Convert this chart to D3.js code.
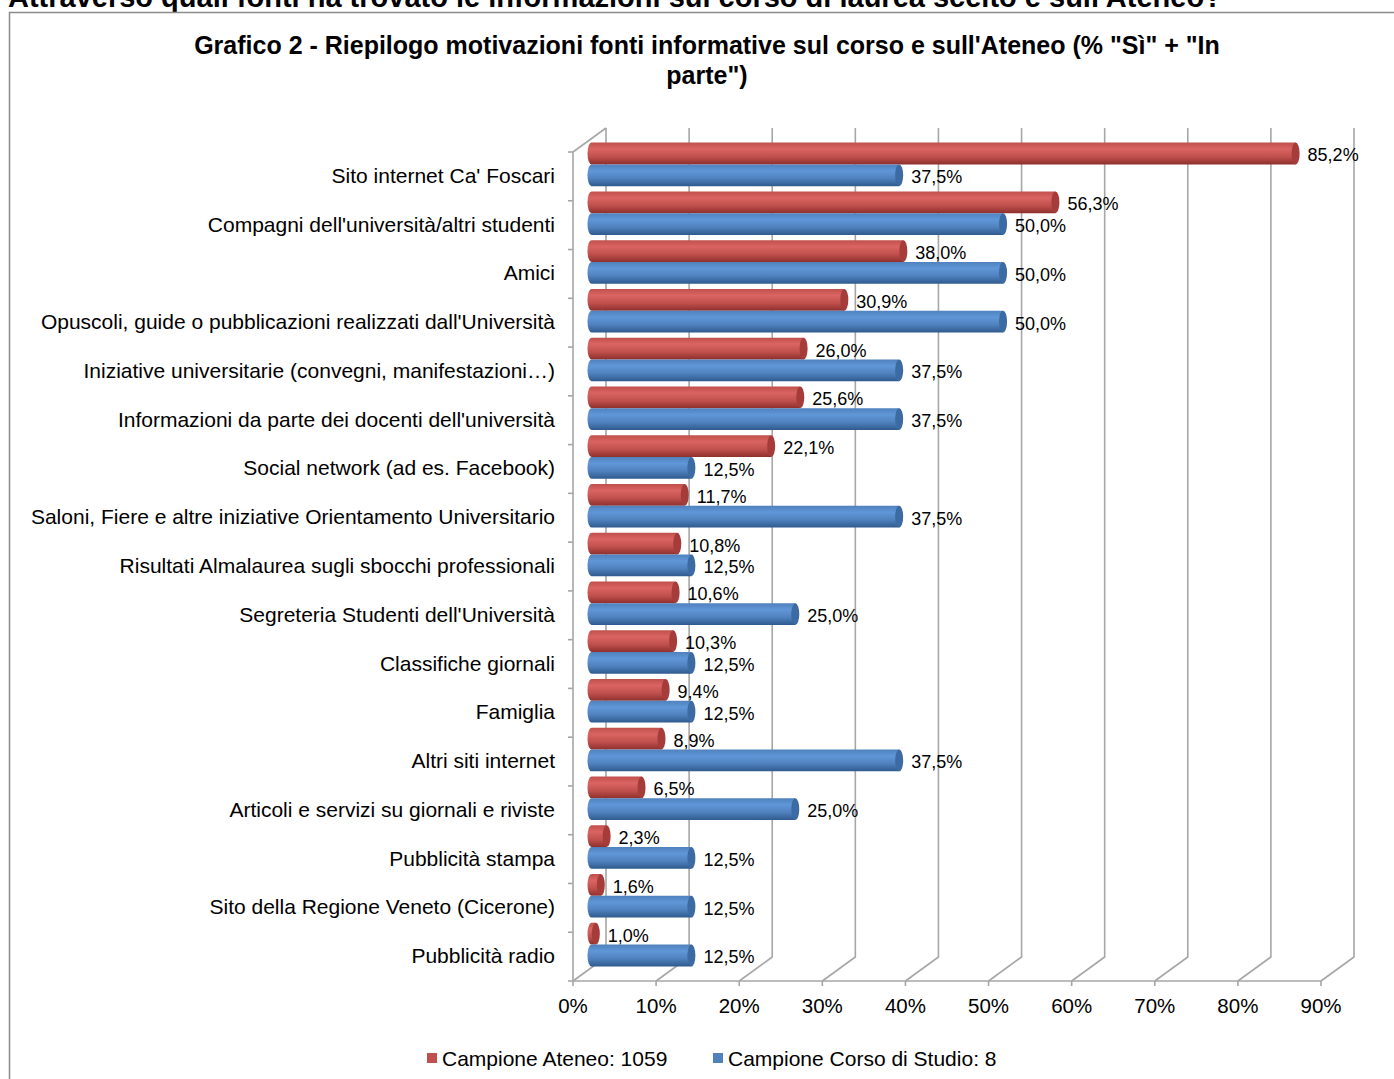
<!DOCTYPE html>
<html>
<head>
<meta charset="utf-8">
<script src="https://cdn.jsdelivr.net/npm/d3@7"></script>
<style>
  body { margin: 0; background: #fff; }
  svg { display: block; font-family: "Liberation Sans", Arial, sans-serif; }
</style>
</head>
<body>
<svg id="chart" width="1394" height="1079"></svg>
<script>
const HEADER = "Attraverso quali fonti ha trovato le informazioni sul corso di laurea scelto e sull'Ateneo?";
const TITLE_LINES = ["Grafico 2 - Riepilogo motivazioni fonti informative sul corso e sull'Ateneo (% \"Sì\" + \"In", "parte\")"];

const categories = [
  "Sito internet Ca' Foscari",
  "Compagni dell'università/altri studenti",
  "Amici",
  "Opuscoli, guide o pubblicazioni realizzati dall'Università",
  "Iniziative universitarie (convegni, manifestazioni…)",
  "Informazioni da parte dei docenti dell'università",
  "Social network (ad es. Facebook)",
  "Saloni, Fiere e altre iniziative Orientamento Universitario",
  "Risultati Almalaurea sugli sbocchi professionali",
  "Segreteria Studenti dell'Università",
  "Classifiche giornali",
  "Famiglia",
  "Altri siti internet",
  "Articoli e servizi su giornali e riviste",
  "Pubblicità stampa",
  "Sito della Regione Veneto (Cicerone)",
  "Pubblicità radio"
];
const ateneo = [85.2, 56.3, 38.0, 30.9, 26.0, 25.6, 22.1, 11.7, 10.8, 10.6, 10.3, 9.4, 8.9, 6.5, 2.3, 1.6, 1.0];
const corso  = [37.5, 50.0, 50.0, 50.0, 37.5, 37.5, 12.5, 37.5, 12.5, 25.0, 12.5, 12.5, 37.5, 25.0, 12.5, 12.5, 12.5];
const seriesNames = ["Campione Ateneo: 1059", "Campione Corso di Studio: 8"];
const xTicks = [0, 10, 20, 30, 40, 50, 60, 70, 80, 90];

const COLORS = {
  ateneo: { base: '#c0504d', light: '#da6461', dark: '#8e302d', cap: '#a63c39' },
  corso:  { base: '#4f81bd', light: '#6097d8', dark: '#2f5a8e', cap: '#3c6aa3' }
};

const DEPTH = { dx: 33, dy: -24 };   // 3d back-wall offset
const GRID = '#a6a6a6';

const svg = d3.select('#chart');
const defs = svg.append('defs');

const x = d3.scaleLinear().domain([0, 90]).range([573, 1321]);
const y = d3.scaleBand().domain(categories).range([152, 981]);
const ySub = d3.scaleBand().domain(['ateneo', 'corso']).range([0, y.bandwidth()]).paddingOuter(0.12);

// gradients for cylinder look
Object.entries(COLORS).forEach(([k, c]) => {
  const g = defs.append('linearGradient').attr('id', 'grad-' + k)
    .attr('x1', 0).attr('y1', 0).attr('x2', 0).attr('y2', 1);
  g.append('stop').attr('offset', '0%').attr('stop-color', c.base);
  g.append('stop').attr('offset', '30%').attr('stop-color', c.light);
  g.append('stop').attr('offset', '65%').attr('stop-color', c.base);
  g.append('stop').attr('offset', '100%').attr('stop-color', c.dark);
});

// header (partly cut off at top, as in the source page)
svg.append('text')
  .attr('x', 8).attr('y', 7)
  .attr('font-size', 29).attr('font-weight', 'bold')
  .text(HEADER);

// chart frame
svg.append('rect')
  .attr('x', 9.5).attr('y', 12.5).attr('width', 1400).attr('height', 1100)
  .attr('fill', 'none').attr('stroke', '#8c8c8c').attr('stroke-width', 1.5);

// title
svg.append('text')
  .attr('x', 707).attr('y', 54)
  .attr('text-anchor', 'middle').attr('font-size', 25).attr('font-weight', 'bold')
  .selectAll('tspan').data(TITLE_LINES).join('tspan')
  .attr('x', 707).attr('dy', (d, i) => i ? 30 : 0)
  .text(d => d);

const yTop = y.range()[0], yBot = y.range()[1];

// back wall gridlines + floor diagonals
const grid = svg.append('g').attr('stroke', GRID).attr('stroke-width', 1.6).attr('fill', 'none');
xTicks.forEach(t => {
  const fx = x(t);
  grid.append('path')
    .attr('d', `M${fx},${yBot} L${fx + DEPTH.dx},${yBot + DEPTH.dy} L${fx + DEPTH.dx},${yTop + DEPTH.dy}`);
});
// left wall
grid.append('path')
  .attr('d', `M${x(0)},${yBot} L${x(0)},${yTop} L${x(0) + DEPTH.dx},${yTop + DEPTH.dy}`);
// floor front edge
grid.append('line')
  .attr('x1', x(0)).attr('x2', x(90)).attr('y1', yBot).attr('y2', yBot);

// category ticks
const catTicks = categories.map(c => y(c)).concat([yBot]);
grid.selectAll('.ctick').data(catTicks).join('line')
  .attr('x1', x(0) - 5).attr('x2', x(0)).attr('y1', d => d).attr('y2', d => d);
// x ticks
grid.selectAll('.xtick').data(xTicks).join('line')
  .attr('x1', d => x(d)).attr('x2', d => x(d)).attr('y1', yBot).attr('y2', yBot + 5);

// x tick labels
svg.append('g').selectAll('text').data(xTicks).join('text')
  .attr('x', d => x(d)).attr('y', yBot + 32)
  .attr('text-anchor', 'middle').attr('font-size', 20.5).attr('fill', '#000')
  .text(d => d + '%');

// category labels
svg.append('g').selectAll('text').data(categories).join('text')
  .attr('x', x(0) - 18).attr('y', d => y(d) + y.bandwidth() / 2 + 6.5)
  .attr('text-anchor', 'end').attr('font-size', 21).attr('fill', '#000')
  .text(d => d);

// bars (cylinders)
const rows = [];
categories.forEach((c, i) => {
  rows.push({ cat: c, key: 'ateneo', v: ateneo[i] });
  rows.push({ cat: c, key: 'corso', v: corso[i] });
});

const ox = DEPTH.dx / 2 - 2, oy = DEPTH.dy / 2;
const barH = ySub.bandwidth();
const rx = 4;

const bars = svg.append('g').selectAll('g').data(rows).join('g')
  .attr('transform', d => `translate(${ox},${y(d.cat) + ySub(d.key) + oy})`);

bars.append('path')
  .attr('d', d => {
    const x0 = x(0) + rx, x1 = x(d.v), r = barH / 2;
    return `M${x0},0 L${x1},0 L${x1},${barH} L${x0},${barH} A${rx},${r} 0 0 1 ${x0},0 Z`;
  })
  .attr('fill', d => `url(#grad-${d.key})`);

bars.append('ellipse')
  .attr('cx', d => x(d.v)).attr('cy', barH / 2)
  .attr('rx', rx).attr('ry', barH / 2)
  .attr('fill', d => COLORS[d.key].cap);

// value labels
bars.append('text')
  .attr('x', d => x(d.v) + rx + 8)
  .attr('y', barH / 2 + 8)
  .attr('font-size', 18).attr('fill', '#000')
  .text(d => d.v.toFixed(1).replace('.', ',') + '%');

// legend
const legend = svg.append('g').attr('font-size', 21);
const legendX = [427, 713];
seriesNames.forEach((name, i) => {
  const key = i ? 'corso' : 'ateneo';
  legend.append('rect')
    .attr('x', legendX[i]).attr('y', 1053).attr('width', 10).attr('height', 10)
    .attr('fill', COLORS[key].base);
  legend.append('text')
    .attr('x', legendX[i] + 15).attr('y', 1066)
    .text(name);
});
</script>
</body>
</html>
